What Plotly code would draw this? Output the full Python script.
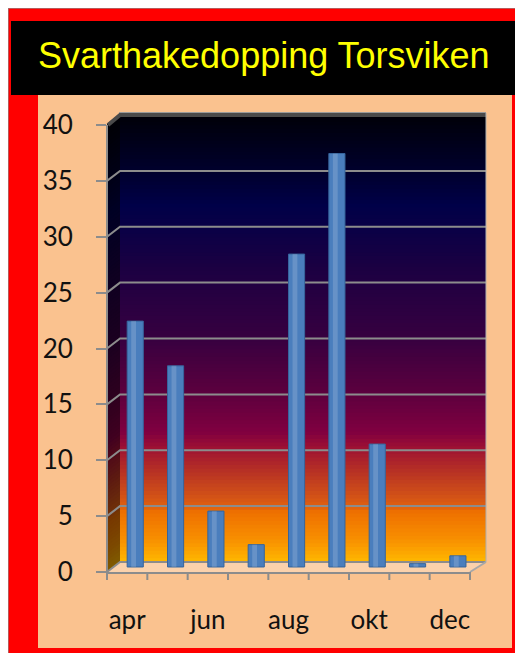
import plotly.graph_objects as go

# ---------------- data ----------------
MONTHS = ["apr", "maj", "jun", "jul", "aug", "sep", "okt", "nov", "dec"]
COUNTS = [22, 18, 5, 2, 28, 37, 11, 0.3, 1]
Y_TICKS = [0, 5, 10, 15, 20, 25, 30, 35, 40]
X_LABEL_MONTHS = ["apr", "jun", "aug", "okt", "dec"]
TITLE = "Svarthakedopping Torsviken"

# ---------------- geometry (screen pixels; page body has an 8px margin) ----
OX, OY = 8, 8
W, H = 515, 645                 # figure size
SX0, SY0 = 107, 572             # screen px of the axes origin (front)
SX1, SYT = 470, 115             # screen px of right end / plot top
L, T = SX0 - OX, SYT - OY
R, B = W - (SX1 - OX), H - (SY0 - OY)
PW, PH = W - L - R, H - T - B
YMAX = 40 * PH / (SY0 - 125.0)  # value 40 sits at screen y=125
PXU = PH / YMAX                 # pixels per value unit
DEPTH_PX = 10                   # 3D depth offset (px) of the back wall
BACK_X = 120                    # back wall left edge (screen px)
BACK_R = 486                    # back wall right edge (screen px)
BASE = 0.45                     # bars sit half way into the depth


def fx(px):
    return (px - SX0) / PW


def fy(py):
    return (SY0 - py) / PH


def vpy(v):
    return SY0 - v * PXU


def hex2rgb(h):
    h = h.lstrip("#")
    return tuple(int(h[i:i + 2], 16) for i in (0, 2, 4))


STOPS = [(115, "#000008"), (170, "#00002c"), (205, "#000048"), (270, "#1c0042"),
         (340, "#380040"), (393, "#5c003e"), (432, "#800040"), (447, "#9c1034"),
         (472, "#b83224"), (495, "#d05018"), (507, "#e06010"), (512, "#ee7000"),
         (540, "#f89000"), (562, "#ffb800")]


def color_at(py, dark=1.0):
    for (y0, c0), (y1, c1) in zip(STOPS[:-1], STOPS[1:]):
        if y0 <= py <= y1:
            t = (py - y0) / (y1 - y0)
            a, b = hex2rgb(c0), hex2rgb(c1)
            c = [round((a[i] + (b[i] - a[i]) * t) * dark) for i in range(3)]
            return "rgb(%d,%d,%d)" % tuple(c)
    c = hex2rgb(STOPS[-1][1] if py > STOPS[-1][0] else STOPS[0][1])
    return "rgb(%d,%d,%d)" % tuple(round(v * dark) for v in c)


shapes = []


def rect(x0, y0, x1, y1, color):
    shapes.append(dict(type="rect", xref="paper", yref="paper", layer="below",
                       x0=fx(x0), x1=fx(x1), y0=fy(y0), y1=fy(y1),
                       fillcolor=color, line=dict(width=0)))


def path(pts, color=None, fill=None, width=0):
    d = "M " + " L ".join("%f,%f" % (fx(a), fy(b)) for a, b in pts)
    if fill:
        d += " Z"
    shapes.append(dict(type="path", xref="paper", yref="paper", layer="below", path=d,
                       fillcolor=fill if fill else "rgba(0,0,0,0)",
                       line=dict(color=color if color else "rgba(0,0,0,0)", width=width)))


# thin frame line at figure top/left
path([(OX, OY + H), (OX, OY), (OX + W, OY)], color="#a07878", width=1.5)
# title bar and panel
rect(11, 21, OX + W, 95, "black")
rect(38, 95, 512, 648, "#fac28f")

# back wall gradient
top, bot = 114, vpy(0) - DEPTH_PX
N = 120
step = (bot - top) / N
for i in range(N):
    y0 = top + i * step
    y1 = min(y0 + step + 1.5, bot)
    rect(BACK_X, y0, BACK_R, y1, color_at(y0 + step / 2))
    # left side wall (darker)
    path([(SX0, y0 + DEPTH_PX), (BACK_X, y0), (BACK_X, y1), (SX0, y1 + DEPTH_PX)],
         fill=color_at(y0 + step / 2, 0.5))

# floor
path([(SX0, vpy(0)), (BACK_X, vpy(0) - DEPTH_PX), (BACK_R, vpy(0) - DEPTH_PX),
      (SX1, vpy(0))], fill="rgba(255,255,255,0.25)")

# gridlines on the back wall
for v in Y_TICKS[:-1]:
    yf = vpy(v)
    path([(SX0, yf), (BACK_X, yf - DEPTH_PX), (BACK_R, yf - DEPTH_PX)],
         color="#8c8c8c", width=2)
path([(SX1, vpy(0)), (BACK_R, vpy(0) - DEPTH_PX)], color="#a8a8a8", width=2)
# wall top edge and right edge
path([(SX0 + 1, vpy(40)), (BACK_X, 115), (BACK_R, 115)], color="#4a4a4a", width=4)
path([(BACK_X - 1, 112.5), (BACK_R, 112.5)], color="#9a9a9a", width=1)
path([(BACK_R, 113), (BACK_R, vpy(0) - DEPTH_PX)], color="#b0b0b0", width=1)
# front y axis line
path([(SX0, vpy(0)), (SX0, vpy(40))], color="#8c8c8c", width=2)
# x tick marks at category boundaries
for i in range(len(MONTHS) + 1):
    x = SX0 + i * PW / len(MONTHS)
    path([(x, vpy(0)), (x, vpy(0) + 8)], color="#8c8c8c", width=2)

fig = go.Figure()
fig.add_trace(go.Bar(
    x=MONTHS, y=COUNTS, base=BASE, width=0.4, offset=0,
    marker=dict(color="#4a7ebd", line=dict(color="#36649c", width=1)),
    hoverinfo="x+y",
))
fig.add_trace(go.Bar(
    x=MONTHS, y=COUNTS, base=BASE, width=0.12, offset=0.1,
    marker=dict(color="rgba(255,255,255,0.16)", line=dict(width=0)),
    hoverinfo="skip", showlegend=False,
))

fig.update_layout(
    width=W, height=H,
    margin=dict(l=L, r=R, t=T, b=B, pad=0),
    paper_bgcolor="#ff0000",
    plot_bgcolor="rgba(0,0,0,0)",
    barmode="overlay",
    showlegend=False,
    shapes=shapes,
    xaxis=dict(
        type="category", range=[-0.5, len(MONTHS) - 0.5],
        tickmode="array", tickvals=X_LABEL_MONTHS, ticktext=X_LABEL_MONTHS,
        ticks="", showgrid=False, zeroline=False,
        showline=True, linecolor="#8c8c8c", linewidth=2,
        tickfont=dict(family="Lato", size=26, color="#111111"),
        ticklabelstandoff=24,
    ),
    yaxis=dict(
        range=[0, YMAX], tickmode="array", tickvals=Y_TICKS,
        ticks="outside", ticklen=10, tickwidth=2, tickcolor="#8c8c8c",
        showgrid=False, zeroline=False, showline=False,
        tickfont=dict(family="Lato", size=26, color="#111111"),
        ticklabelstandoff=18,
    ),
    annotations=[dict(
        text=TITLE, xref="paper", yref="paper",
        x=fx(263.5), y=fy(56), xanchor="center", yanchor="middle",
        showarrow=False,
        font=dict(family="Liberation Sans", size=36, color="#ffff00"),
    )],
)

fig.write_html("out.html")
